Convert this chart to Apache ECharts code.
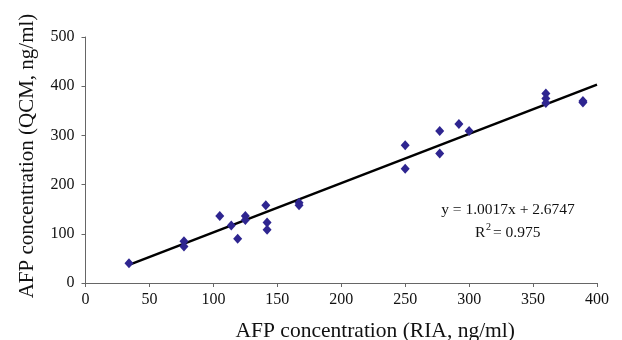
<!DOCTYPE html>
<html><head><meta charset="utf-8">
<script src="https://cdn.jsdelivr.net/npm/echarts@6/dist/echarts.min.js"></script>
<style>html,body{margin:0;padding:0;background:#fff}#c{width:622px;height:340px}</style>
</head><body><div id="c"></div>
<script>
const ria = [34, 77, 77, 105, 114, 119, 125, 125, 141, 142, 142, 167, 167, 250, 250, 277, 277, 292, 300, 360, 360, 360, 389, 389];
const qcm = [40, 85, 74, 136, 117, 90, 136, 128, 158, 123, 108, 163, 158, 280, 232, 309, 263, 323, 309, 385, 375, 366, 370, 367];
const slope = 1.0017, intercept = 2.6747;
const fitX = [34, 400];
const xTicks = [0, 50, 100, 150, 200, 250, 300, 350, 400];
const yTicks = [0, 100, 200, 300, 400, 500];
const eqText = 'y = 1.0017x + 2.6747';

const chart = echarts.init(document.getElementById('c'));
const font = '"Liberation Serif", "Times New Roman", serif';
chart.setOption({
  animation: false,
  textStyle: {fontFamily: font},
  grid: {left: 85.5, right: 25, top: 37, bottom: 57, containLabel: false, outerBoundsMode: 'none'},
  xAxis: {
    type: 'value', min: 0, max: 400, interval: 50,
    name: 'AFP concentration (RIA, ng/ml)', nameLocation: 'middle', nameGap: 37,
    nameTextStyle: {fontFamily: font, fontSize: 21.5, color: '#111', padding: [0, 0, 0, 68]},
    axisLine: {lineStyle: {color: '#666', width: 1}},
    axisTick: {show: true, length: 4, lineStyle: {color: '#666'}},
    axisLabel: {fontFamily: font, fontSize: 16, color: '#111', margin: 9},
    splitLine: {show: false}
  },
  yAxis: {
    type: 'value', min: 0, max: 500, interval: 100,
    name: 'AFP concentration (QCM, ng/ml)', nameLocation: 'middle', nameGap: 48,
    nameTextStyle: {fontFamily: font, fontSize: 21, color: '#111', padding: [0, 0, 0, 8]},
    axisLine: {show: true, lineStyle: {color: '#666', width: 1}},
    axisTick: {show: true, length: 4, lineStyle: {color: '#666'}},
    axisLabel: {fontFamily: font, fontSize: 16, color: '#111', margin: 11},
    splitLine: {show: false}
  },
  series: [
    {
      type: 'line', data: fitX.map(x => [x, slope * x + intercept]),
      showSymbol: false, lineStyle: {color: '#000', width: 2.5}, z: 1
    },
    {
      type: 'scatter', data: ria.map((x, i) => [x, qcm[i]]),
      symbol: 'diamond', symbolSize: [9, 10],
      itemStyle: {color: '#2e2590', opacity: 1}, z: 2
    }
  ],
  graphic: [
    {type: 'text', x: 508, y: 210, style: {text: eqText, font: '15.5px ' + font, fill: '#111', align: 'center', verticalAlign: 'middle'}},
    {type: 'text', x: 475, y: 233, style: {text: 'R', font: '15.5px ' + font, fill: '#111', verticalAlign: 'middle'}},
    {type: 'text', x: 486, y: 227, style: {text: '2', font: '10px ' + font, fill: '#111', verticalAlign: 'middle'}},
    {type: 'text', x: 493, y: 233, style: {text: '= 0.975', font: '15.5px ' + font, fill: '#111', verticalAlign: 'middle'}}
  ]
});
</script></body></html>
